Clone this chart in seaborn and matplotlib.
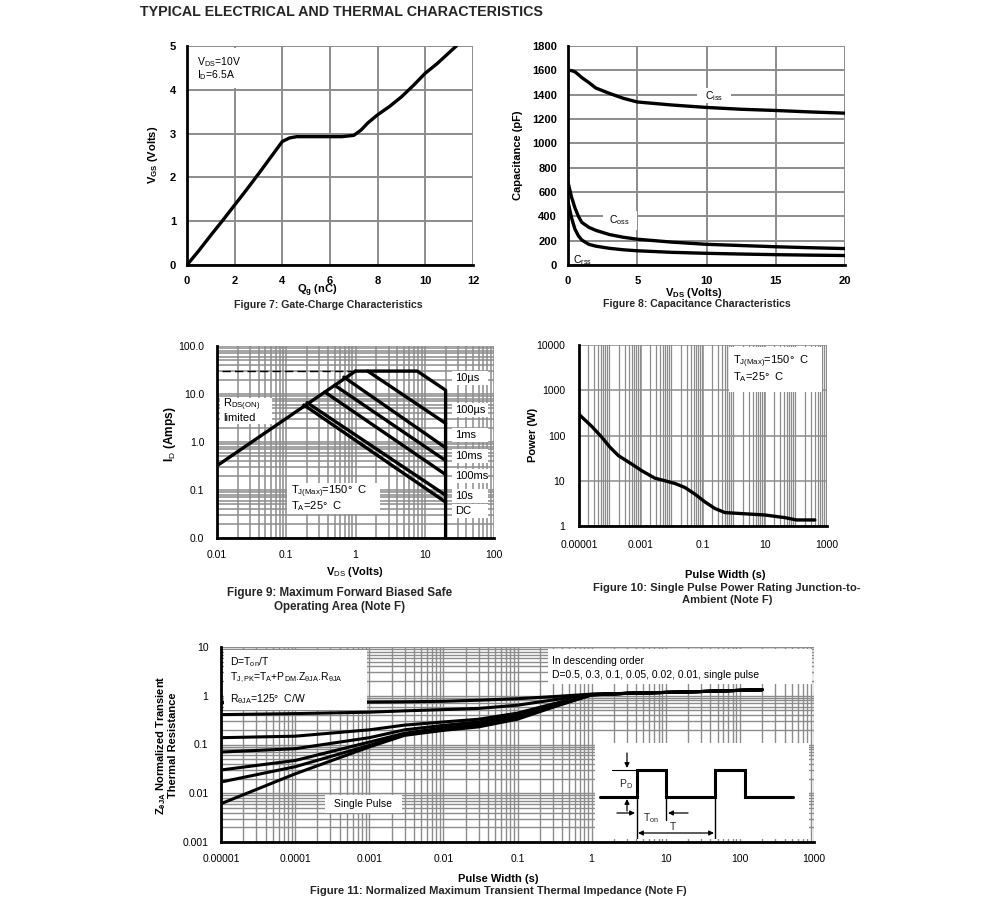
import numpy as np
import pandas as pd
import matplotlib
matplotlib.use("Agg")
import matplotlib.pyplot as plt
import matplotlib.transforms as mtransforms
from matplotlib.ticker import LogLocator, NullFormatter
from matplotlib.patches import Rectangle
import seaborn as sns

# ---------------- data ----------------
# Figure 7: gate charge
qg_nc = [0, 0.5, 1.0, 1.5, 2.0, 2.5, 3.0, 3.5, 4.0, 4.3, 4.6, 5.5, 6.5, 7.0, 7.3, 7.6,
         8.0, 8.5, 9.0, 9.5, 10.0, 10.5, 11.0, 11.3]
vgs_v = [0, 0.33, 0.68, 1.02, 1.37, 1.72, 2.08, 2.45, 2.82, 2.90, 2.93, 2.93, 2.93, 2.96,
         3.08, 3.25, 3.43, 3.62, 3.84, 4.10, 4.38, 4.60, 4.85, 5.0]

# Figure 8: capacitance
vds_cap = [0, 0.25, 0.5, 0.75, 1, 1.5, 2, 3, 4, 5, 7.5, 10, 12.5, 15, 17.5, 20]
ciss_pf = [1600, 1598, 1588, 1565, 1540, 1500, 1455, 1410, 1370, 1340, 1315, 1295, 1280, 1270, 1258, 1248]
coss_pf = [680, 560, 470, 400, 350, 310, 285, 250, 228, 212, 188, 170, 160, 150, 142, 135]
crss_pf = [520, 390, 295, 240, 205, 170, 155, 137, 125, 117, 104, 96, 90, 85, 81, 78]

# Figure 9: safe operating area (segments)
rds_vds, rds_id = [0.01, 1.0], [0.32, 30.0]
lim_vds, lim_id = [0.012, 1.0], [30.0, 30.0]
t10us_vds, t10us_id = [1.0, 7.8, 20.0, 20.0], [30.0, 30.0, 12.0, 0.01]
t100us_vds, t100us_id = [1.5, 20.0], [30.0, 2.45]
t1ms_vds, t1ms_id = [0.68, 20.0], [22.5, 0.76]
t10ms_vds, t10ms_id = [0.5, 20.0], [15.2, 0.41]
t100ms_vds, t100ms_id = [0.36, 20.0], [11.0, 0.21]
t10s_vds, t10s_id = [0.2, 20.0], [6.6, 0.078]
dc_vds, dc_id = [0.18, 20.0], [5.9, 0.056]
soa_labels = ["10\u00b5s", "100\u00b5s", "1ms", "10ms", "100ms", "10s", "DC"]

# Figure 10: single pulse power
pw_s = [1e-5, 2.6e-5, 5.4e-5, 1e-4, 1.86e-4, 5e-4, 1.05e-3, 2.8e-3, 5.9e-3, 0.0125, 0.026,
        0.055, 0.116, 0.244, 0.51, 1.77, 10, 44, 105, 405]
pw_w = [293, 158, 92, 55, 36, 23.4, 16.7, 11.4, 10.0, 8.7, 7.1, 5.06, 3.4, 2.43, 1.98,
        1.88, 1.75, 1.53, 1.36, 1.36]

# Figure 11: normalized transient thermal impedance
zt_s = [1e-5, 1e-4, 1e-3, 3e-3, 1e-2, 3e-2, 0.1, 0.3, 1, 3, 10, 30, 100, 200]
z_d05 = [0.72, 0.73, 0.74, 0.75, 0.77, 0.81, 0.87, 0.96, 1.08, 1.12, 1.17, 1.22, 1.29, 1.33]
z_d03 = [0.41, 0.43, 0.46, 0.49, 0.52, 0.55, 0.64, 0.82, 1.07, 1.12, 1.17, 1.22, 1.29, 1.33]
z_d01 = [0.138, 0.148, 0.20, 0.25, 0.29, 0.33, 0.44, 0.68, 1.06, 1.12, 1.17, 1.22, 1.29, 1.33]
z_d005 = [0.070, 0.082, 0.138, 0.20, 0.247, 0.29, 0.40, 0.64, 1.05, 1.12, 1.17, 1.22, 1.29, 1.33]
z_d002 = [0.030, 0.047, 0.112, 0.17, 0.22, 0.26, 0.37, 0.62, 1.05, 1.12, 1.17, 1.22, 1.29, 1.33]
z_d001 = [0.017, 0.035, 0.096, 0.16, 0.21, 0.25, 0.36, 0.61, 1.04, 1.12, 1.17, 1.22, 1.29, 1.33]
z_single = [0.0061, 0.025, 0.089, 0.154, 0.195, 0.23, 0.33, 0.58, 1.04, 1.12, 1.17, 1.22, 1.29, 1.33]
duty_names = ["0.5", "0.3", "0.1", "0.05", "0.02", "0.01", "single"]

# ---------------- style ----------------
sns.set_theme(style="white")
plt.rcParams['font.family'] = ['Liberation Sans', 'DejaVu Sans']
plt.rcParams['mathtext.fontset'] = 'custom'
plt.rcParams['mathtext.rm'] = 'Liberation Sans'
plt.rcParams['mathtext.it'] = 'Liberation Sans:italic'
plt.rcParams['mathtext.bf'] = 'Liberation Sans:bold'
plt.rcParams['mathtext.default'] = 'rm'

W, H = 991, 915
fig = plt.figure(figsize=(W / 100, H / 100), dpi=100)
fig.patch.set_facecolor('white')
PX = mtransforms.Affine2D().scale(1, -1).translate(0, H)

GRID = '#8c8c8c'
LW = 2.0


def add_ax(l, t, r, b):
    return fig.add_axes([l / W, 1 - b / H, (r - l) / W, (b - t) / H])


def frame(ax):
    for s in ['top', 'right']:
        ax.spines[s].set_visible(False)
    for s in ['left', 'bottom']:
        ax.spines[s].set_color('black')
        ax.spines[s].set_linewidth(2.0)
        ax.spines[s].set_zorder(8)
    ax.set_axisbelow(True)
    ax.set_xlabel('')
    ax.set_ylabel('')


def logminor(axis):
    axis.set_minor_locator(LogLocator(base=10, subs=np.arange(2, 10), numticks=100))
    axis.set_minor_formatter(NullFormatter())


def box(ax, l, t, r, b, z=6):
    ax.add_patch(Rectangle((l, t), r - l, b - t, transform=PX, facecolor='white',
                           edgecolor='none', zorder=z, clip_on=False))


def ptext(ax, x, y, s, size=7.5, ha='left', va='center', z=7, **kw):
    ax.text(x, y, s, transform=PX, fontsize=size, ha=ha, va=va, zorder=z, color='black', **kw)


def label(ax, xl, xpos, yl, ypos, size=8, ysize=None):
    ax.set_xlabel(xl, fontsize=size, fontweight='bold', color='black')
    ax.xaxis.set_label_coords(xpos[0], xpos[1], transform=PX)
    ax.xaxis.label.set_va('center')
    ax.set_ylabel(yl, fontsize=ysize or size, fontweight='bold', color='black', linespacing=1.0)
    ax.yaxis.set_label_coords(ypos[0], ypos[1], transform=PX)
    ax.yaxis.label.set_va('center')
    ax.yaxis.label.set_ha('center')


def caption(x, y, s, size=8):
    fig.text(x, y, s, transform=PX, fontsize=size, fontweight='bold', ha='center', va='center',
             linespacing=1.25)


fig.text(140, 12, "TYPICAL ELECTRICAL AND THERMAL CHARACTERISTICS", transform=PX,
         fontsize=10.3, fontweight='bold', ha='left', va='center')

# ---------------- Figure 7 ----------------
ax7 = add_ax(187, 46, 473, 265)
sns.lineplot(x=qg_nc, y=vgs_v, ax=ax7, color='black', lw=LW + 0.4, sort=False,
             estimator=None, zorder=3)
ax7.set_xlim(0, 12)
ax7.set_ylim(0, 5)
ax7.set_xticks(range(0, 13, 2), labels=[str(v) for v in range(0, 13, 2)], fontweight='bold')
ax7.set_yticks(range(6), labels=[str(v) for v in range(6)], fontweight='bold')
ax7.grid(True, color=GRID, lw=1.4)
frame(ax7)
ax7.tick_params(length=0, labelsize=8, pad=8, colors='black')
label(ax7, "Q$_\\mathbf{g}$ (nC)", (317, 291), "V$_\\mathbf{GS}$ (Volts)", (153, 155))
box(ax7, 192, 48, 268, 88)
ptext(ax7, 197, 62, "V$_{DS}$=10V")
ptext(ax7, 197, 75, "I$_D$=6.5A")
caption(328, 305, "Figure 7: Gate-Charge Characteristics", size=7.6)

# ---------------- Figure 8 ----------------
ax8 = add_ax(568, 46, 845, 265)
cap_df = pd.DataFrame({
    'vds': vds_cap * 3,
    'c': ciss_pf + coss_pf + crss_pf,
    'kind': ['Ciss'] * len(vds_cap) + ['Coss'] * len(vds_cap) + ['Crss'] * len(vds_cap),
})
sns.lineplot(data=cap_df, x='vds', y='c', hue='kind', palette=['black'] * 3, ax=ax8,
             lw=LW + 0.4, legend=False, estimator=None, zorder=3)
ax8.set_xlim(0, 20)
ax8.set_ylim(0, 1800)
ax8.set_xticks(range(0, 21, 5), labels=[str(v) for v in range(0, 21, 5)], fontweight='bold')
ax8.set_yticks(range(0, 1801, 200), labels=[str(v) for v in range(0, 1801, 200)], fontweight='bold')
ax8.grid(True, color=GRID, lw=1.4)
frame(ax8)
ax8.tick_params(length=0, labelsize=8, pad=8, colors='black')
label(ax8, "V$_\\mathbf{DS}$ (Volts)", (694, 293), "Capacitance (pF)", (518, 155))
box(ax8, 697, 88, 731, 103)
ptext(ax8, 714, 96, "C$_{iss}$", ha='center')
box(ax8, 603, 211, 637, 230)
ptext(ax8, 619, 220, "C$_{oss}$", ha='center')
ptext(ax8, 583, 260, "C$_{rss}$", ha='center')
caption(697, 304, "Figure 8: Capacitance Characteristics", size=7.6)

# ---------------- Figure 9 ----------------
ax9 = add_ax(217, 346, 494, 538)
ax9.set_xscale('log')
ax9.set_yscale('log')
segs = [rds_vds, t10us_vds, t100us_vds, t1ms_vds, t10ms_vds, t100ms_vds, t10s_vds, dc_vds]
segy = [rds_id, t10us_id, t100us_id, t1ms_id, t10ms_id, t100ms_id, t10s_id, dc_id]
rows = []
for i, (xs, ys) in enumerate(zip(segs, segy)):
    for j, (xv, yv) in enumerate(zip(xs, ys)):
        rows.append({'seg': i, 'order': j, 'vds': xv, 'id': yv})
soa_df = pd.DataFrame(rows)
sns.lineplot(data=soa_df, x='vds', y='id', units='seg', estimator=None, sort=False,
             color='black', lw=LW + 0.4, ax=ax9, zorder=3)
sns.lineplot(x=lim_vds, y=lim_id, ax=ax9, color='black', lw=1.0, linestyle=(0, (6, 3)),
             sort=False, estimator=None, zorder=3)
ax9.set_xlim(0.01, 100)
ax9.set_ylim(0.01, 100)
ax9.set_xticks([0.01, 0.1, 1, 10, 100], labels=["0.01", "0.1", "1", "10", "100"])
ax9.set_yticks([0.01, 0.1, 1, 10, 100], labels=["0.0", "0.1", "1.0", "10.0", "100.0"])
logminor(ax9.xaxis)
logminor(ax9.yaxis)
ax9.grid(True, which='both', color=GRID, lw=1.1)
frame(ax9)
ax9.tick_params(which='both', length=0, labelsize=7.5, pad=9, colors='black')
label(ax9, "V$_{DS}$ (Volts)", (355, 572), "I$_D$ (Amps)", (170, 434), ysize=8.6)
lab_y = [378, 410, 435, 456, 476, 496, 511]
for s, yy in zip(soa_labels, lab_y):
    box(ax9, 452, yy - 7, 488, yy + 7)
    ptext(ax9, 455, yy, s, size=8)
box(ax9, 220, 398, 272, 424)
ptext(ax9, 223, 405, "R$_{DS(ON)}$", size=8)
ptext(ax9, 223, 418, "limited", size=8)
box(ax9, 287, 483, 380, 514)
ptext(ax9, 291, 492, "T$_{J(Max)}$=150\u00b0  C", size=8)
ptext(ax9, 291, 506, "T$_A$=25\u00b0  C", size=8)
caption(340, 600, "Figure 9: Maximum Forward Biased Safe\nOperating Area (Note F)", size=8.4)

# ---------------- Figure 10 ----------------
ax10 = add_ax(579, 345, 827, 526)
ax10.set_xscale('log')
ax10.set_yscale('log')
sns.lineplot(x=pw_s, y=pw_w, ax=ax10, color='black', lw=LW + 0.4, sort=False,
             estimator=None, zorder=3)
ax10.set_xlim(1e-5, 1000)
ax10.set_ylim(1, 10000)
ax10.set_xticks([1e-5, 1e-3, 0.1, 10, 1000], labels=["0.00001", "0.001", "0.1", "10", "1000"])
ax10.set_yticks([1, 10, 100, 1000, 10000], labels=["1", "10", "100", "1000", "10000"])
ax10.yaxis.set_minor_locator(plt.NullLocator())
logminor(ax10.xaxis)
ax10.grid(True, which='major', color=GRID, lw=1.1)
ax10.grid(True, which='minor', axis='x', color=GRID, lw=0.9)
frame(ax10)
ax10.tick_params(which='both', length=0, labelsize=7.5, pad=10, colors='black')
label(ax10, "Pulse Width (s)", (725, 575), "Power (W)", (533, 435))
box(ax10, 729, 347, 822, 392)
ptext(ax10, 733, 362, "T$_{J(Max)}$=150\u00b0  C", size=8)
ptext(ax10, 733, 377, "T$_A$=25\u00b0  C", size=8)
caption(727, 594, "Figure 10: Single Pulse Power Rating Junction-to-\nAmbient (Note F)", size=8.1)

# ---------------- Figure 11 ----------------
ax11 = add_ax(221, 647, 814, 842)
ax11.set_xscale('log')
ax11.set_yscale('log')
z_series = [z_d05, z_d03, z_d01, z_d005, z_d002, z_d001, z_single]
zt_df = pd.DataFrame({
    't': zt_s * len(z_series),
    'z': sum(z_series, []),
    'D': sum([[n] * len(zt_s) for n in duty_names], []),
})
sns.lineplot(data=zt_df, x='t', y='z', hue='D', palette=['black'] * len(duty_names),
             ax=ax11, lw=LW + 0.2, legend=False, estimator=None, sort=False, zorder=3)
ax11.set_xlim(1e-5, 1000)
ax11.set_ylim(0.001, 10)
xt = [1e-5, 1e-4, 1e-3, 1e-2, 0.1, 1, 10, 100, 1000]
ax11.set_xticks(xt, labels=["0.00001", "0.0001", "0.001", "0.01", "0.1", "1", "10", "100", "1000"])
ax11.set_yticks([0.001, 0.01, 0.1, 1, 10], labels=["0.001", "0.01", "0.1", "1", "10"])
logminor(ax11.xaxis)
logminor(ax11.yaxis)
ax11.grid(True, which='both', color=GRID, lw=1.0)
frame(ax11)
ax11.tick_params(which='both', length=0, labelsize=7.5, pad=9, colors='black')
label(ax11, "Pulse Width (s)", (498, 879),
      "Z$_\\mathbf{\u03b8JA}$ Normalized Transient\nThermal Resistance", (166, 745))
box(ax11, 224, 650, 367, 710)
ptext(ax11, 230, 662, "D=T$_{on}$/T", size=7.5)
ptext(ax11, 230, 678, "T$_{J,PK}$=T$_A$+P$_{DM}$.Z$_{\u03b8JA}$.R$_{\u03b8JA}$", size=7.5)
ptext(ax11, 230, 699, "R$_{\u03b8JA}$=125\u00b0  C/W", size=7.5)
box(ax11, 548, 649, 812, 684)
ptext(ax11, 552, 661, "In descending order", size=7.5)
ptext(ax11, 552, 675, "D=0.5, 0.3, 0.1, 0.05, 0.02, 0.01, single pulse", size=7.5)
box(ax11, 325, 795, 402, 813)
ptext(ax11, 363, 804, "Single Pulse", size=7.5, ha='center')
caption(498, 891, "Figure 11: Normalized Maximum Transient Thermal Impedance (Note F)", size=8)

# pulse schematic inset (decoration)
ins = fig.add_axes([595 / W, 1 - 839 / H, (809 - 595) / W, (839 - 743) / H])
ins.set_xlim(595, 809)
ins.set_ylim(839, 743)
ins.set_xticks([])
ins.set_yticks([])
for sp in ins.spines.values():
    sp.set_visible(False)
ins.set_facecolor('white')
wave_x = [600, 637, 637, 666, 666, 715, 715, 745, 745, 793]
wave_y = [797, 797, 770, 770, 797, 797, 770, 770, 797, 797]
ins.plot(wave_x, wave_y, color='black', lw=2.2, solid_joinstyle='miter')
ins.plot([612, 637], [770, 770], color='black', lw=0.8)
ins.plot([637, 637], [797, 839], color='black', lw=1.0)
ins.plot([715, 715], [797, 839], color='black', lw=1.0)
ins.plot([666, 666], [797, 820], color='black', lw=1.0)
ap = dict(arrowstyle='-|>', color='black', lw=0.9, mutation_scale=7, shrinkA=0, shrinkB=0)
ins.annotate('', xy=(627, 768), xytext=(627, 753), arrowprops=ap)
ins.annotate('', xy=(627, 799), xytext=(627, 811), arrowprops=ap)
ins.annotate('', xy=(635, 813), xytext=(617, 813), arrowprops=ap)
ins.annotate('', xy=(668, 813), xytext=(688, 813), arrowprops=ap)
ins.annotate('', xy=(714, 833), xytext=(638, 833),
             arrowprops=dict(arrowstyle='<|-|>', color='black', lw=0.9, mutation_scale=7,
                             shrinkA=0, shrinkB=0))
ins.text(626, 784, "P$_D$", fontsize=7.5, ha='center', va='center')
ins.text(651, 818, "T$_{on}$", fontsize=7.5, ha='center', va='center')
ins.text(673, 827, "T", fontsize=7.5, ha='center', va='center')

fig.savefig("out.png", dpi=100, facecolor='white')
